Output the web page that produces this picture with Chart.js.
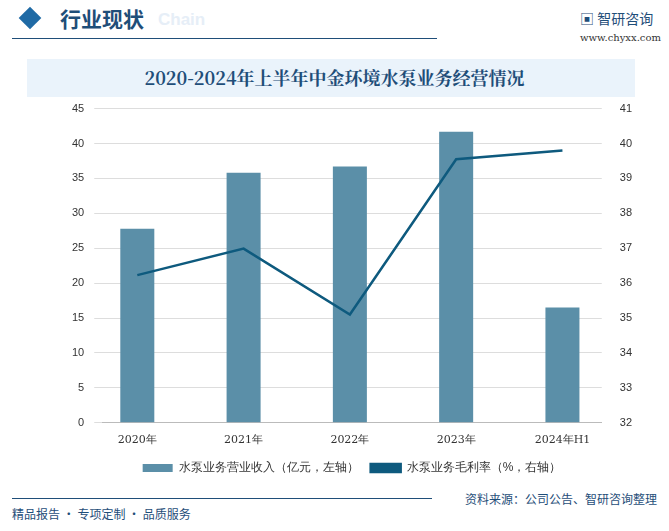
<!DOCTYPE html>
<html><head><meta charset="utf-8">
<script src="https://cdn.jsdelivr.net/npm/chart.js@4"></script>
<style>
body{margin:0;width:669px;height:531px;background:#fff;position:relative;overflow:hidden;font-family:"Noto Sans CJK SC",sans-serif}
.abs{position:absolute}
</style></head><body>
<div class="abs" style="left:22px;top:10px;width:16px;height:16px;background:#1f6aa5;transform:rotate(45deg)"></div>
<div class="abs" style="left:60px;top:3px;font-size:21px;color:#1f4e79;font-weight:bold">行业现状</div>
<div class="abs" style="left:158px;top:10px;font-size:17px;color:#e6eef7;font-weight:bold;font-family:Arial">Chain</div>
<div class="abs" style="left:12px;top:38px;width:425px;height:1px;background:#1f4e79"></div>
<div class="abs" style="left:580px;top:8px;font-size:14px;color:#1f4e79">▣ 智研咨询</div>
<div class="abs" style="left:580px;top:32px;font-size:10px;color:#333;font-family:'DejaVu Serif'">www.chyxx.com</div>
<div class="abs" style="left:27px;top:59px;width:608px;height:38px;background:#eaf3fb"></div>
<div class="abs" style="left:0;top:64px;width:669px;text-align:center;font-size:18px;font-weight:bold;color:#1f4e79;font-family:'Noto Serif CJK SC','Noto Sans CJK SC'">2020-2024年上半年中金环境水泵业务经营情况</div>
<div class="abs" style="left:62px;top:92px;width:580px;height:392px"><canvas id="c"></canvas></div>
<div class="abs" style="left:12px;top:498px;width:420px;height:1px;background:#1f4e79"></div>
<div class="abs" style="left:12px;top:505px;font-size:12px;color:#1f4e79">精品报告 · 专项定制 · 品质服务</div>
<div class="abs" style="right:12px;top:490px;font-size:12px;color:#1f4e79">资料来源：公司公告、智研咨询整理</div>
<script>
const categories=["2020年","2021年","2022年","2023年","2024年H1"];
const revenue=[27.8,35.8,36.7,41.7,16.5];
const margin=[36.23,36.99,35.1,39.55,39.8];
const pts=a=>a.map((v,i)=>({x:i,y:v}));
new Chart(document.getElementById('c'),{
 data:{datasets:[
  {type:'line',label:'水泵业务毛利率（%，右轴）',data:pts(margin),yAxisID:'y1',borderColor:'#0e5a7e',backgroundColor:'#0e5a7e',borderWidth:2.5,pointRadius:0,order:0},
  {type:'bar',label:'水泵业务营业收入（亿元，左轴）',data:pts(revenue),yAxisID:'y',backgroundColor:'#5b8fa8',barPercentage:0.32,categoryPercentage:1,order:1}
 ]},
 options:{responsive:true,maintainAspectRatio:false,animation:false,
  plugins:{legend:{position:'bottom',reverse:true,labels:{boxWidth:30,boxHeight:8,font:{size:12},color:'#333',padding:12}},tooltip:{enabled:false}},
  scales:{
   x:{type:'linear',min:-0.33,max:4.37,offset:false,grid:{display:false},
      afterBuildTicks:s=>{s.ticks=categories.map((c,i)=>({value:i}));},
      ticks:{color:'#333',font:{size:11,family:'DejaVu Serif'},callback:v=>categories[v]},border:{color:'#bbb'}},
   y:{position:'left',min:0,max:45,ticks:{stepSize:5,color:'#333',font:{size:11},padding:10},grid:{color:'#ddd'},border:{display:false}},
   y1:{position:'right',min:32,max:41,ticks:{stepSize:1,color:'#333',font:{size:11},padding:10},grid:{display:false},border:{display:false}}
  }}
});
</script></body></html>
